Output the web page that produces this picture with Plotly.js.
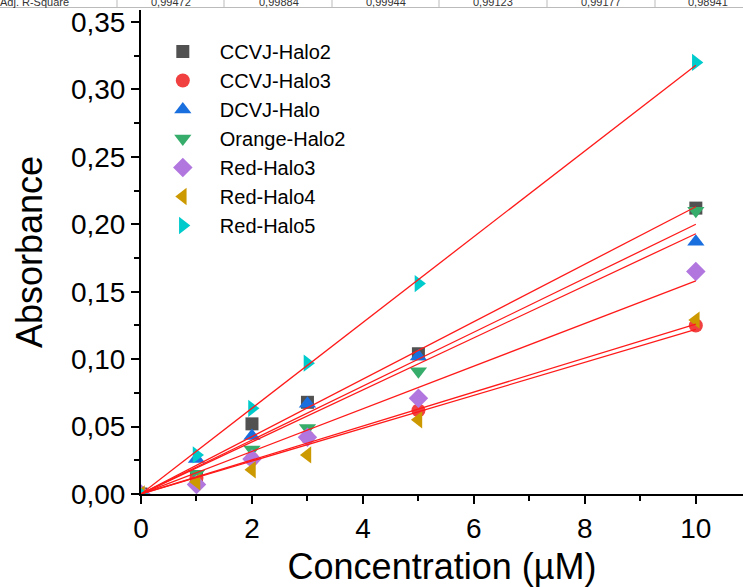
<!DOCTYPE html>
<html><head><meta charset="utf-8">
<script src="https://cdn.plot.ly/plotly-3.0.1.min.js"></script>
<style>html,body{margin:0;padding:0;background:#fff}#chart{width:743px;height:587px}</style>
</head><body><div id="chart"></div>
<script>
const concentration = [0, 1, 2, 3, 5, 10];
const seriesNames = ['CCVJ-Halo2', 'CCVJ-Halo3', 'DCVJ-Halo', 'Orange-Halo2', 'Red-Halo3', 'Red-Halo4', 'Red-Halo5'];
const ccvjHalo2 = [0, 0.013, 0.052, 0.068, 0.104, 0.212];
const ccvjHalo3 = [0, 0.012, 0.026, 0.042, 0.062, 0.125];
const dcvjHalo = [0, 0.026, 0.043, 0.067, 0.102, 0.187];
const orangeHalo2 = [0, 0.015, 0.033, 0.049, 0.091, 0.210];
const redHalo3 = [0, 0.007, 0.026, 0.042, 0.071, 0.165];
const redHalo4 = [0, 0.009, 0.018, 0.029, 0.055, 0.129];
const redHalo5 = [0, 0.029, 0.0635, 0.097, 0.156, 0.320];
const fitX = [0, 10];
const fitAtZero = [0, 0, 0, 0, 0, 0, 0];
const fitAtTen = [0.213, 0.126, 0.193, 0.200, 0.158, 0.122, 0.318];
const adjR2Label = 'Adj. R-Square';
const adjR2Values = ['0,99472', '0,99884', '0,99944', '0,99123', '0,99177', '0,98941'];

const seriesValues = [ccvjHalo2, ccvjHalo3, dcvjHalo, orangeHalo2, redHalo3, redHalo4, redHalo5];
const colors = ['#515151', '#F14040', '#1A6FDF', '#37AD6B', '#B177DE', '#CC9900', '#00CBCC'];
const symbols = ['square', 'circle', 'triangle-up', 'triangle-down', 'diamond', 'triangle-left', 'triangle-right'];
const sizes = [13, 14, 15, 15, 15, 15, 15];

const traces = [];
seriesNames.forEach((name, i) => {
  traces.push({
    x: concentration, y: seriesValues[i], name: name, type: 'scatter', mode: 'markers',
    marker: {color: colors[i], symbol: symbols[i], size: sizes[i], line: {width: 0}}
  });
});
seriesNames.forEach((name, i) => {
  traces.push({
    x: fitX, y: [fitAtZero[i], fitAtTen[i]], type: 'scatter', mode: 'lines', showlegend: false,
    hoverinfo: 'skip', line: {color: '#ff1a1a', width: 1.3}
  });
});

const px2x = p => (p - 141) / 602;
const px2y = p => (494 - p) / 484;
const shapes = [{type: 'line', xref: 'paper', yref: 'paper', x0: px2x(0), x1: px2x(743), y0: px2y(7.5), y1: px2y(7.5), line: {color: '#bbbbbb', width: 1}}];
[117, 224, 332, 439, 547, 655].forEach(p => shapes.push({type: 'line', xref: 'paper', yref: 'paper', x0: px2x(p), x1: px2x(p), y0: px2y(7.5), y1: px2y(-5), line: {color: '#bbbbbb', width: 1}}));
const annotations = [{xref: 'paper', yref: 'paper', x: px2x(-2), y: px2y(1.5), xanchor: 'left', yanchor: 'middle', text: adjR2Label, showarrow: false, font: {size: 11, color: '#333'}}];
const centers = [171, 279, 386, 493, 601, 708];
adjR2Values.forEach((v, i) => annotations.push({xref: 'paper', yref: 'paper', x: px2x(centers[i]), y: px2y(1.5), xanchor: 'center', yanchor: 'middle', text: v, showarrow: false, font: {size: 11, color: '#333'}}));

const axisCommon = {
  ticks: 'outside', ticklen: 8, tickwidth: 2, tickcolor: '#000',
  showline: true, linewidth: 2, linecolor: '#000', showgrid: false, zeroline: false,
  tickfont: {size: 28, color: '#000'}
};
const layout = {
  width: 743, height: 587,
  margin: {l: 141, r: 0, t: 10, b: 93, pad: 0},
  separators: ', ',
  paper_bgcolor: '#fff', plot_bgcolor: '#fff',
  font: {family: '"Liberation Sans", Arial, sans-serif', color: '#000'},
  xaxis: Object.assign({}, axisCommon, {
    range: [0, 10.85], tick0: 0, dtick: 2,
    minor: {dtick: 1, ticks: 'outside', ticklen: 5, tickwidth: 2, tickcolor: '#000', showgrid: false},
    title: {text: 'Concentration (µM)', font: {size: 36, color: '#000'}, standoff: 19}
  }),
  yaxis: Object.assign({}, axisCommon, {
    range: [0, 0.3589], tick0: 0, dtick: 0.05, tickformat: '.2f',
    minor: {dtick: 0.025, ticks: 'outside', ticklen: 5, tickwidth: 2, tickcolor: '#000', showgrid: false},
    title: {text: 'Absorbance', font: {size: 36, color: '#000'}, standoff: 17}
  }),
  legend: {x: 0.008, y: 0.9545, xanchor: 'left', yanchor: 'top', itemwidth: 64, font: {size: 20, color: '#000'}, bgcolor: 'rgba(0,0,0,0)', tracegroupgap: 0},
  shapes: shapes,
  annotations: annotations,
  showlegend: true
};
Plotly.newPlot('chart', traces, layout, {displayModeBar: false, staticPlot: true});
</script>
</body></html>
